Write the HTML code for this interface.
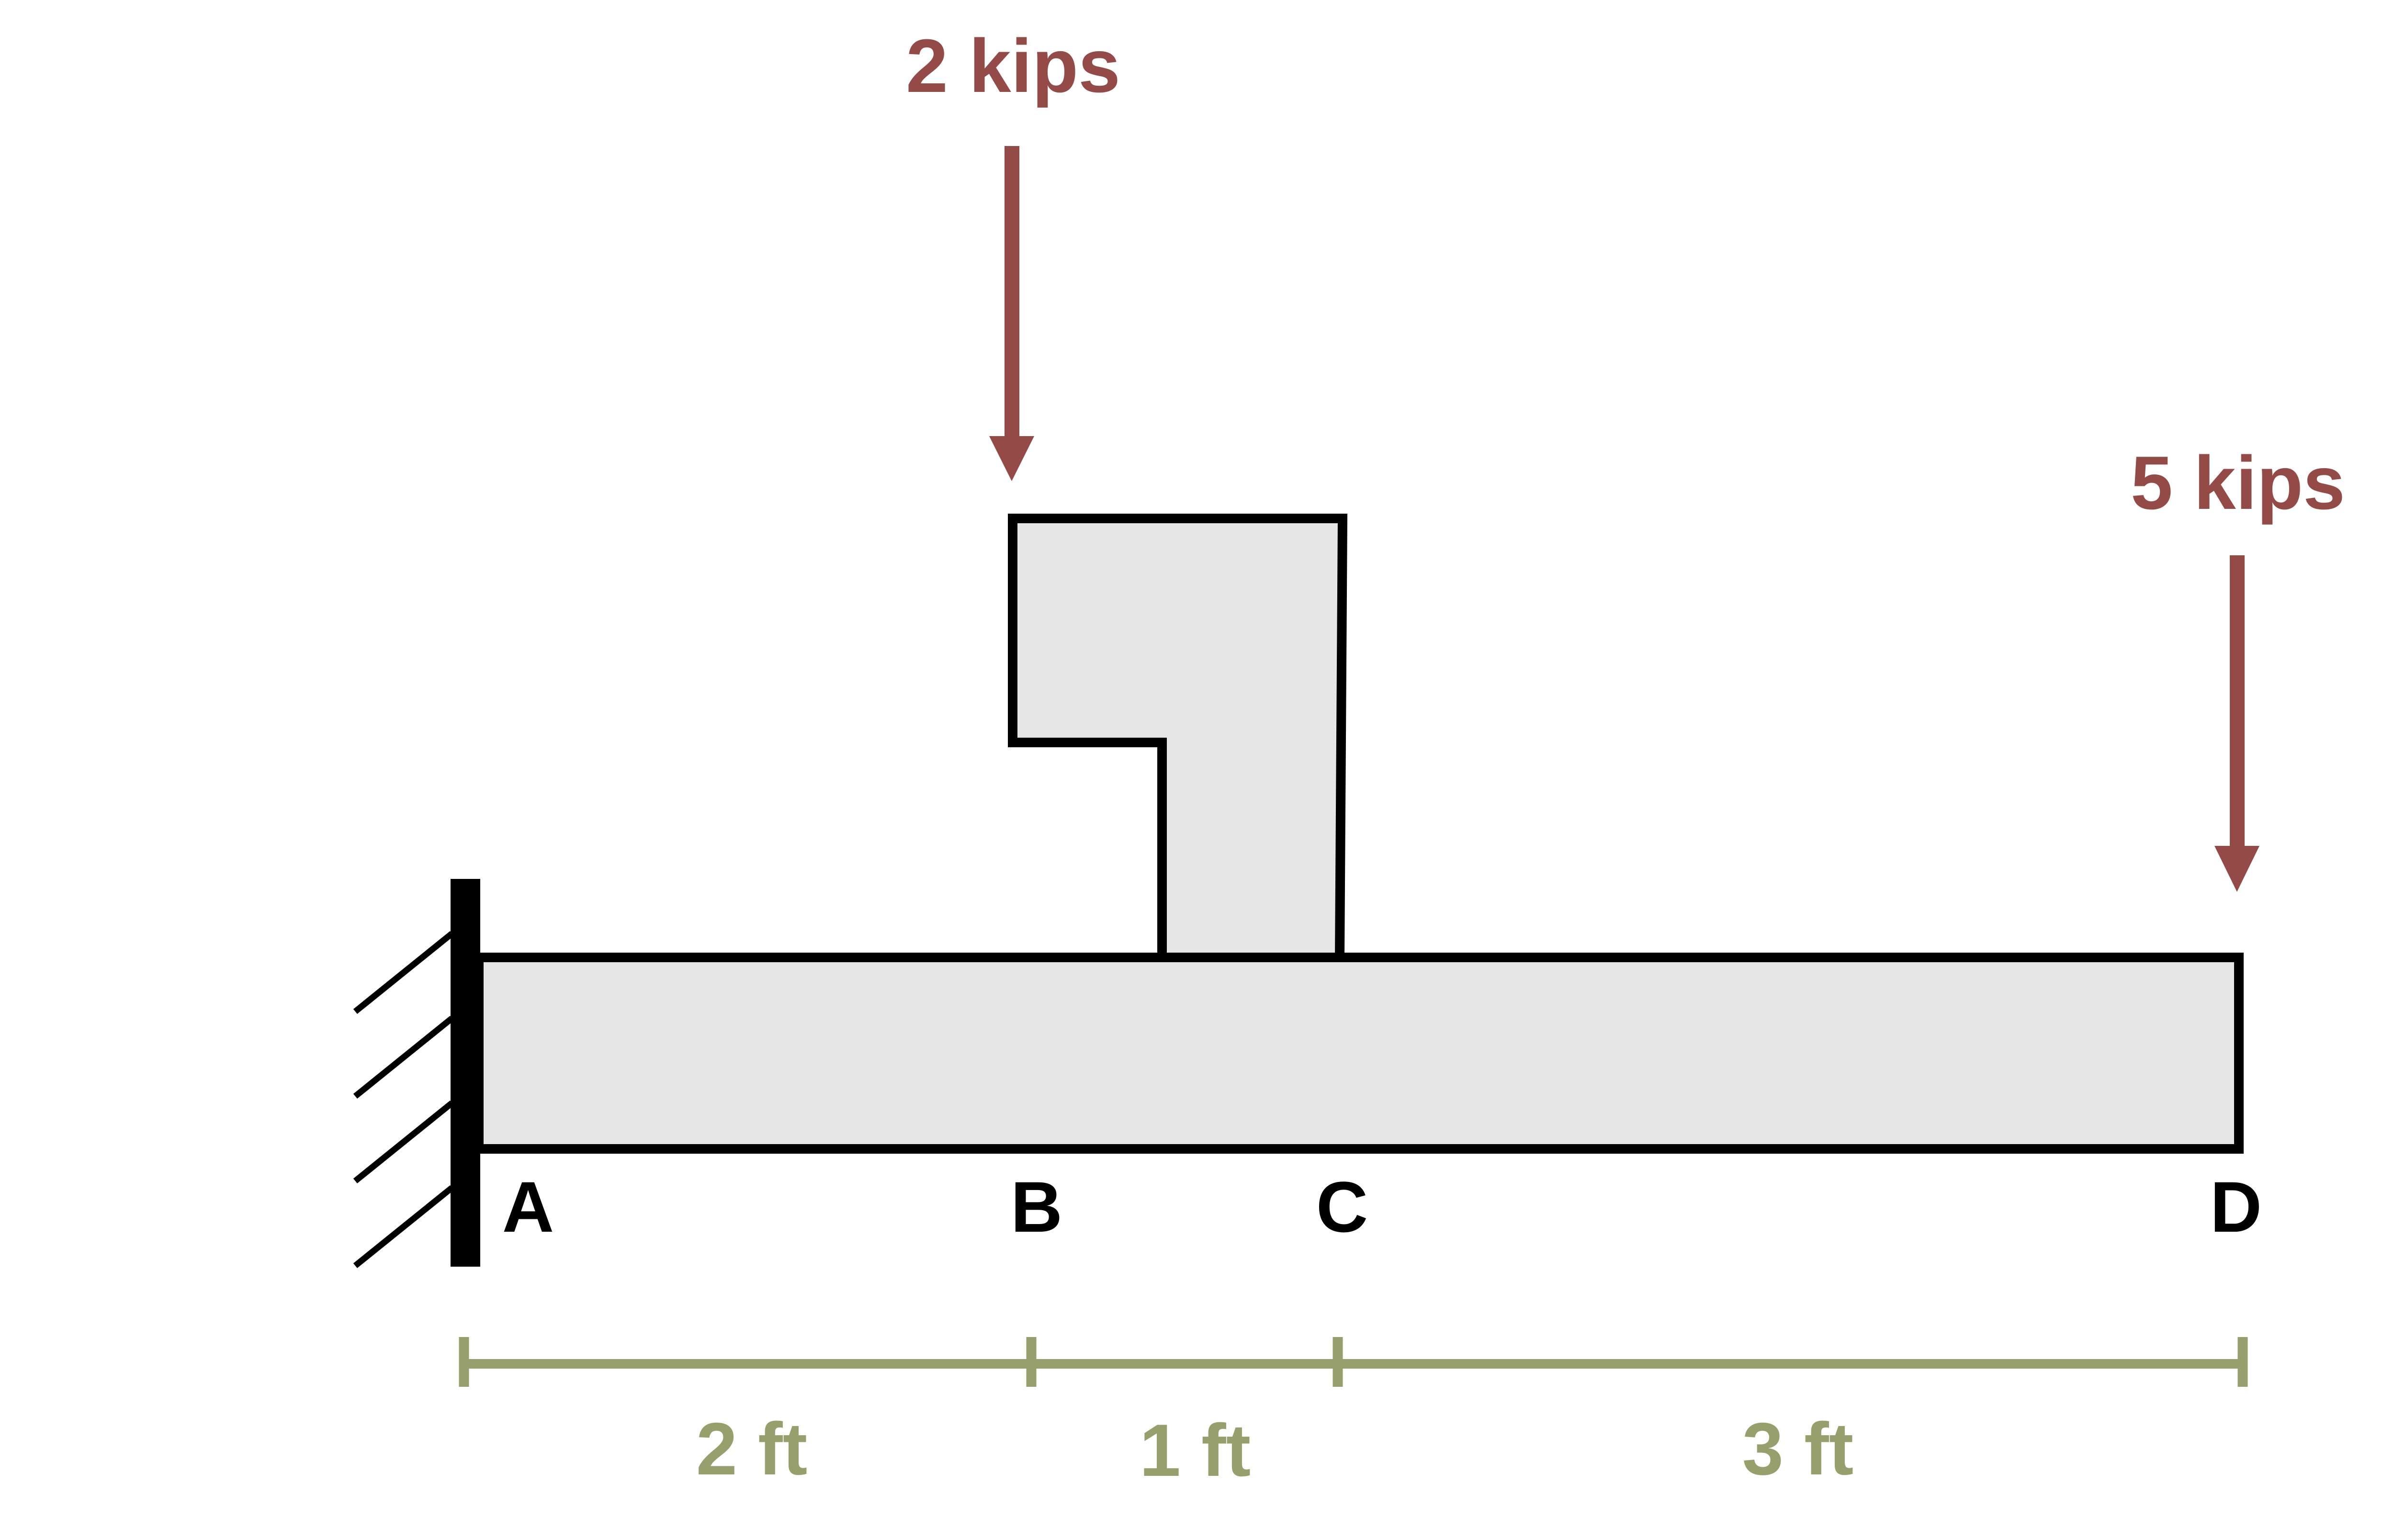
<!DOCTYPE html>
<html><head><meta charset="utf-8"><style>
html,body{margin:0;padding:0;background:#fff;}
svg{display:block;}
text{font-family:"Liberation Sans",sans-serif;font-weight:bold;}
</style></head><body>
<svg width="5011" height="3217" viewBox="0 0 5011 3217" xmlns="http://www.w3.org/2000/svg">
<rect width="5011" height="3217" fill="#fff"/>
<g stroke="#000" stroke-width="13">
<line x1="742" y1="2113" x2="944" y2="1950"/>
<line x1="742" y1="2290" x2="944" y2="2127"/>
<line x1="742" y1="2467" x2="944" y2="2304"/>
<line x1="742" y1="2644" x2="944" y2="2481"/>
</g>
<rect x="1000" y="2000" width="3676" height="400" fill="#e6e6e6" stroke="#000" stroke-width="20"/>
<polygon points="2115,1083 2804,1083 2798,2000 2427,2000 2427,1551 2115,1551" fill="#e6e6e6" stroke="#000" stroke-width="20"/>
<rect x="941" y="1836" width="62" height="810" fill="#000"/>
<rect x="2098" y="305" width="31" height="608" fill="#944b47"/>
<polygon points="2066,911 2160,911 2113,1005" fill="#944b47"/>
<rect x="4657" y="1160" width="31" height="610" fill="#944b47"/>
<polygon points="4625,1767 4719,1767 4672,1863" fill="#944b47"/>
<text x="2116" y="192" font-size="158" fill="#944b47" text-anchor="middle">2 kips</text>
<text x="4674" y="1063" font-size="158" fill="#944b47" text-anchor="middle">5 kips</text>
<g font-size="150" fill="#000" text-anchor="middle">
<text x="1103" y="2573">A</text>
<text x="2165" y="2573">B</text>
<text x="2803" y="2573">C</text>
<text x="4670" y="2573">D</text>
</g>
<g stroke="#979f6c">
<line x1="969" y1="2849" x2="4684" y2="2849" stroke-width="20"/>
<line x1="969" y1="2793" x2="969" y2="2897" stroke-width="21"/>
<line x1="2154" y1="2793" x2="2154" y2="2897" stroke-width="21"/>
<line x1="2794" y1="2793" x2="2794" y2="2897" stroke-width="21"/>
<line x1="4684" y1="2793" x2="4684" y2="2897" stroke-width="21"/>
</g>
<g font-size="155" fill="#979f6c" text-anchor="middle">
<text x="1570" y="3080">2 ft</text>
<text x="2496" y="3083">1 ft</text>
<text x="3755" y="3080">3 ft</text>
</g>
</svg>
</body></html>
